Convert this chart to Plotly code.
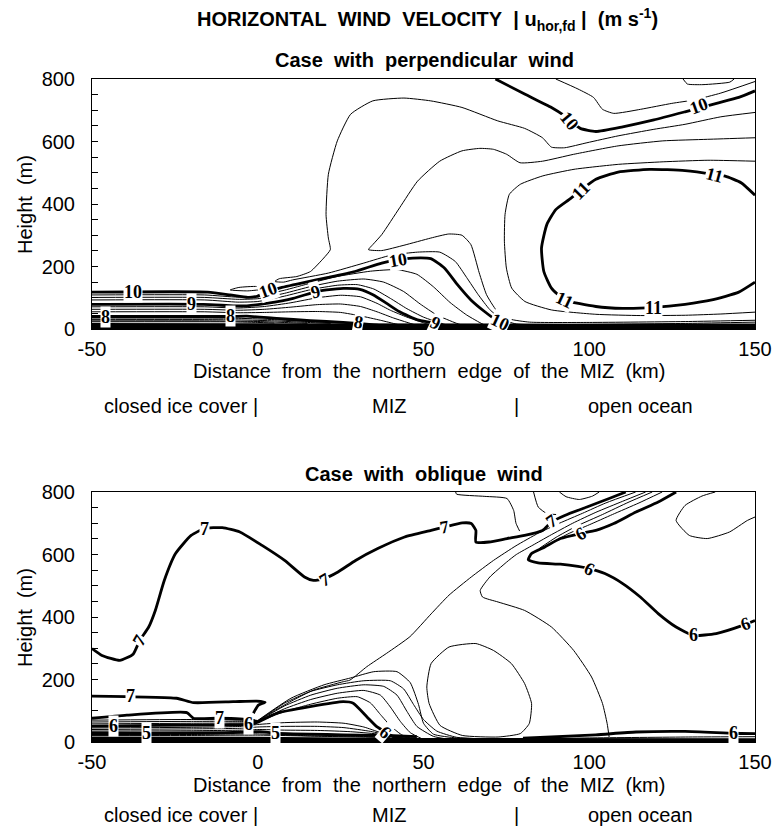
import plotly.graph_objects as go

# ---------------- data (km, m) ----------------
x_range = [-50, 150]
y_range = [0, 800]
x_ticks = [-50, 0, 50, 100, 150]
x_tick_text = ["-50", "0", "50", "100", "150"]
y_ticks = [0, 200, 400, 600, 800]

# ===== TOP PANEL : perpendicular wind =====
top_band = [(-50, 19), (0, 18), (50, 17), (100, 17), (150, 18)]

top_b10_low = [(-50, 118), (-15.1, 118), (-8.3, 109), (-3, 101), (-0.3, 104), (2.7, 118), (6.5, 131),
               (13.2, 147), (21.3, 165), (29.3, 184), (37.4, 211), (42.4, 222), (46.8, 227), (52.2, 225),
               (56.3, 195), (60.3, 141), (64.3, 93), (68.4, 56), (73.1, 20), (76.4, 4)]
top_b9 = [(-50, 79), (-16.4, 79), (-7.4, 74), (-3.3, 74), (2.7, 82), (10.7, 98), (17.3, 119), (20.8, 125),
          (25.8, 130), (30.8, 127), (34.9, 109), (38.9, 82), (42.8, 55), (48.2, 29), (53.6, 18), (57.6, 2)]
top_b8 = [(-50, 40), (-8, 40), (-3.3, 41), (5.7, 34), (15.8, 27), (25.8, 21), (30, 18), (36, 12), (40, 5)]
top_t975 = [(-50, 109), (-16, 109), (-6, 102), (0, 106), (8, 124), (16, 147), (24, 168), (34, 185), (42, 190),
            (48, 175), (53, 135), (58, 85), (63, 45), (68, 15), (72, 2)]
top_t95 = [(-50, 101), (-16, 101), (-6, 95), (0, 97), (8, 114), (16, 136), (24, 153), (32, 160), (38, 150),
           (44, 120), (49, 80), (54, 45), (60, 18), (65, 2)]
top_t925 = [(-50, 93), (-16, 93), (-6, 86), (0, 88), (8, 105), (16, 126), (24, 140), (30, 142), (35, 128),
            (40, 98), (45, 65), (50, 38), (56, 16), (61, 2)]
top_t875 = [(-50, 71), (-16, 71), (-6, 67), (2, 72), (10, 84), (18, 100), (25, 108), (31, 103), (36, 82),
            (40, 60), (45, 38), (50, 20), (54, 5)]
top_t85 = [(-50, 63), (-16, 63), (-6, 60), (2, 63), (10, 70), (18, 78), (25, 80), (31, 72), (36, 55), (41, 35),
           (46, 18), (50, 5)]
top_t825 = [(-50, 55), (-16, 55), (-6, 52), (2, 53), (10, 55), (18, 56), (25, 53), (31, 42), (37, 28), (42, 15),
            (46, 5)]
top_t775 = [(-50, 35), (-16, 35), (-5, 34), (5, 30), (15, 24), (25, 20), (32, 17)]
top_t75 = [(-50, 30), (-16, 30), (-5, 29), (5, 26), (15, 21), (22, 18)]
top_t725 = [(-50, 26), (-16, 26), (0, 24), (10, 20), (15, 18)]
top_t7 = [(-50, 23), (-10, 23), (0, 21), (5, 19)]
top_lens = [(-8.3, 125), (-5.7, 133), (-0.3, 136), (1.7, 128), (-3, 122), (-8.3, 125)]
top_arcA = [(150, 693), (139.7, 679), (128.9, 655), (119.5, 639), (108.7, 618), (99.3, 596), (92.6, 580),
            (88.6, 582), (85.9, 612), (80.5, 642), (72.4, 666), (61.6, 709), (52.2, 730), (44.1, 739),
            (34.7, 730), (28, 687), (24, 602), (21.3, 495), (20.6, 366), (21.3, 291), (21.9, 254), (19.9, 227),
            (15.9, 184), (11.8, 168), (6.5, 161), (5.1, 152), (7.8, 150), (10.5, 157), (21.3, 179), (32, 211),
            (40.1, 236), (48.2, 246), (54.9, 246), (59.6, 216), (63, 165), (66.5, 110), (70, 62), (73.5, 32),
            (78, 16), (100, 15), (130, 18), (150, 22)]
top_arcB = [(150, 612), (135.7, 607), (122.2, 602), (108.7, 586), (95.3, 559), (85.9, 537), (79.1, 532),
            (75.1, 559), (71.1, 575), (67, 578), (61.6, 570), (54.9, 537), (48.2, 473), (42.8, 388),
            (37.4, 302), (34.7, 270), (33.4, 254), (37.4, 251), (44.1, 268), (52.2, 291), (57.6, 304),
            (61.6, 300), (64.3, 270), (66.8, 180), (69, 110), (72, 60), (76, 32), (82, 22), (100, 21),
            (130, 24), (150, 28)]
top_c1075 = [(150, 537), (135.8, 540), (122.3, 535), (108.9, 527), (95.4, 511), (86, 490), (79.2, 463),
             (75.9, 431), (74.6, 367), (74.4, 281), (75, 195), (76.6, 131), (80.6, 88), (88.6, 61), (102, 47),
             (115.5, 43), (129, 44), (139.7, 48), (150, 54)]
top_b11 = [(150, 428), (145.8, 468), (141, 489), (137.7, 495), (128.9, 507), (118.2, 511), (108.7, 502),
           (102, 479), (97.3, 443), (93.9, 414), (89.9, 382), (87.2, 334), (85.6, 259), (86.3, 184),
           (88.6, 131), (92.6, 93), (102, 72), (110.1, 66), (119.5, 69), (128.9, 79), (137, 93), (145.1, 118),
           (150, 150)]
top_b10_up = [(71.7, 800), (80.5, 752), (88.6, 709), (92.6, 682), (97.3, 642), (102, 632), (110.1, 647),
              (119.5, 669), (128.9, 695), (138.4, 722), (145.1, 741), (150, 762)]
top_t1 = [(89.9, 800), (96.6, 768), (101.3, 741), (104, 703), (107.4, 690), (115.5, 703), (124.9, 722),
          (131.6, 733), (139.7, 755), (150, 792)]
top_t_small = [(128.3, 800), (129.6, 784), (134.3, 782), (142.4, 790), (143.7, 800)]

top_bold = [top_b10_low, top_b9, top_b8, top_b11, top_b10_up]
top_thin = [top_t975, top_t95, top_t925, top_t875, top_t85, top_t825, top_t775, top_t75, top_t725, top_t7,
            top_lens, top_arcA, top_arcB, top_c1075, top_t1, top_t_small]

top_labels = [("10", -37.5, 118, 0), ("9", -19.9, 79, 0), ("8", -46, 40, 0), ("8", -8.2, 41, 0),
              ("10", 3.2, 125, -20), ("9", 17.3, 119, -15), ("8", 30.3, 22, 10), ("10", 42.4, 222, -10),
              ("9", 53.6, 20, 25), ("10", 73.1, 22, 25), ("10", 94, 665, 50), ("10", 133, 712, -20),
              ("11", 97.3, 443, -45), ("11", 137.7, 492, 15), ("11", 92.6, 93, 25), ("11", 119.5, 68, 0)]

# ===== BOTTOM PANEL : oblique wind =====
bot_band = [(-50, 18), (0, 17), (40, 13), (100, 12), (150, 12)]

bot_b7_main = [(-50, 299), (-47, 277), (-41.6, 261), (-37.6, 281), (-35.6, 325), (-32.9, 368), (-30.9, 421),
               (-28.2, 517), (-24.8, 603), (-20.1, 661), (-16.1, 683), (-10.7, 686), (-5.4, 672), (1.3, 629),
               (8.1, 581), (14.1, 528), (16.8, 517), (20.1, 523), (24.2, 544), (29.5, 581), (36.2, 619),
               (44.3, 656), (52.3, 677), (56.4, 688), (61.7, 701), (64.4, 699), (65.8, 677), (65.8, 640),
               (69.8, 640), (75.2, 651), (80.5, 661), (85.9, 677), (88.6, 704), (92.6, 725), (99.3, 752),
               (106, 779), (111, 800)]
bot_b7_upper_left = [(-50, 147), (-24.5, 140), (-19.4, 126), (-7.4, 129), (-0.3, 131), (2.2, 127), (0.2, 118),
                     (-0.8, 102), (-1.3, 92)]
bot_b7_lower_left = [(-50, 76), (-39.5, 86), (-21.4, 94), (-19.4, 76), (-12.4, 76), (-5.4, 74), (-1.8, 70),
                     (0, 66)]
bot_b6_low = [(-50, 51), (-30, 53), (-10, 55), (-2, 57), (0, 63), (5.7, 92), (15.8, 113), (25.8, 129),
              (28.8, 124), (32.9, 81), (35.9, 49), (38.4, 33), (40.9, 17), (45.9, 4)]
bot_b5 = [(-50, 29), (-33.5, 28), (-10, 30), (0.7, 33), (5.5, 28), (10.7, 26), (20.8, 24), (30.8, 22),
          (40.9, 20), (48, 17)]
bot_t675 = [(-50, 70), (-20, 72), (-5, 70), (0, 65)]
bot_t65 = [(-50, 64), (-20, 66), (-5, 66), (0, 64)]
bot_t625 = [(-50, 58), (-20, 60), (-5, 61), (0, 63)]
bot_t575 = [(-50, 45), (-20, 47), (-5, 50), (0, 56), (8, 62), (18, 64), (26, 60), (32, 48), (37, 30), (42, 12)]
bot_t55 = [(-50, 40), (-20, 42), (-5, 44), (0, 48), (8, 50), (18, 50), (26, 46), (34, 34), (40, 20), (45, 10)]
bot_t525 = [(-50, 35), (-20, 36), (-5, 38), (0, 40), (8, 38), (18, 37), (28, 33), (36, 26), (44, 16), (50, 10)]
bot_t475 = [(-50, 24), (-20, 24), (0, 26), (15, 20), (30, 18), (45, 15)]
bot_t45 = [(-50, 21), (-20, 21), (0, 22), (20, 18), (40, 14)]
bot_f1 = [(0, 64), (8, 97), (16, 121), (24, 140), (30, 145), (34, 125), (37, 88), (40, 52), (43, 26), (46, 8)]
bot_f2 = [(0, 65), (8, 106), (16, 136), (24, 156), (32, 165), (37, 150), (40, 112), (43, 66), (46, 30), (50, 8)]
bot_f3 = [(0, 66), (8, 115), (16, 150), (24, 172), (32, 183), (38, 178), (42, 150), (45, 98), (48, 50),
          (53, 18), (58, 8)]
bot_f4 = [(0, 67), (8, 124), (16, 162), (24, 183), (32, 196), (40, 196), (44, 170), (47, 120), (50, 72),
          (54, 35), (60, 15), (70, 9)]
bot_f5 = [(0, 69), (10, 140), (20, 183), (28, 205), (35, 225), (42, 225), (46, 190), (48.5, 120), (50, 60),
          (53, 25), (60, 13), (75, 10), (95, 9)]
bot_d1 = [(0, 68), (5, 100), (10.7, 134), (16.8, 166), (25.8, 193), (27.8, 198), (32.9, 241), (38.9, 284),
          (45.9, 337), (52.3, 410), (57.7, 470), (64.4, 528), (71.1, 581), (77.9, 628), (84.6, 668),
          (91, 700), (98, 732), (105, 765), (114, 800)]
bot_d2 = [(117, 800), (110, 770), (102, 735), (95, 700), (88, 660), (83, 630), (78, 600), (75, 575),
          (70, 528), (67.1, 485), (67.8, 464), (72.5, 448), (80.5, 421), (88.6, 368), (95.3, 293),
          (100.7, 208), (104, 123), (105.4, 59), (106, 16)]
bot_bundle1 = [(119, 800), (112, 768), (104, 728), (96, 690), (90, 655), (85, 620)]
bot_bundle2 = [(122, 800), (115, 765), (107, 728), (100, 695), (94, 668), (89, 640)]
bot_top1 = [(59.7, 800), (60, 793), (68.5, 786), (75.2, 779), (77.2, 741), (77.9, 700), (79, 675)]
bot_top2 = [(83.2, 800), (84.6, 752), (87.2, 731), (90, 728)]
bot_top_loop = [(91, 800), (93, 785), (97, 776), (101, 787), (103, 800)]
bot_tr = [(150, 720), (147.7, 709), (142.3, 672), (135.6, 651), (130.2, 661), (126.2, 709), (128.9, 757),
          (134, 787), (138, 800)]
bot_b6_upper = [(126.2, 800), (120.8, 768), (114.1, 736), (107.4, 699), (102, 677), (97.3, 667), (91.3, 651),
                (86.6, 624), (82.6, 603), (81.6, 583), (84.6, 573), (91.3, 569), (96.6, 562), (100, 555),
                (104.7, 539), (110.1, 507), (115.4, 464), (120.8, 411), (126.2, 368), (131.5, 341),
                (138.3, 347), (146.3, 373), (150, 389)]
bot_loop = [(51, 176), (52.3, 251), (57.7, 304), (65.8, 315), (71.1, 293), (76.5, 251), (80.5, 187),
            (82.6, 123), (81.9, 59), (79.2, 27), (72.5, 16), (61.7, 21), (55, 53), (51.7, 123), (51, 176)]
bot_b6_br = [(80, 12), (88.6, 16), (102, 23), (114.1, 32), (128.9, 34), (143.6, 28), (150, 27)]
bot_t_br = [(70, 8), (100, 13), (130, 16), (150, 17)]

bot_bold = [bot_b7_main, bot_b7_upper_left, bot_b7_lower_left, bot_b6_low, bot_b5, bot_b6_upper, bot_b6_br]
bot_thin = [bot_t675, bot_t65, bot_t625, bot_t575, bot_t55, bot_t525, bot_t475, bot_t45, bot_f1, bot_f2,
            bot_f3, bot_f4, bot_f5, bot_d1, bot_d2, bot_bundle1, bot_bundle2, bot_top1, bot_top2, bot_top_loop,
            bot_tr, bot_loop, bot_t_br]

bot_labels = [("7", -16.1, 683, 0), ("7", -35.6, 325, -60), ("7", 20.1, 520, -30), ("7", 56.4, 688, -10),
              ("7", 88.6, 707, -35), ("7", -38.3, 146, 0), ("7", -11.6, 77, 0), ("6", -43.6, 51, 0),
              ("6", -2.8, 58, 0), ("5", -33.5, 28, 0), ("5", 5.5, 28, 0), ("6", 38.4, 33, 40),
              ("6", 97.3, 667, -30), ("6", 100, 555, 25), ("6", 131.5, 341, 0), ("6", 147, 377, -20),
              ("6", 143.6, 28, 0)]

# ---------------- figure ----------------
W, H = 774, 827
def px(x):
    return x / W
def py(y):
    return 1 - y / H

fig = go.Figure()

def add_band(band, xa, ya):
    xs = [p[0] for p in band] + [150, -50]
    ys = [p[1] for p in band] + [0, 0]
    fig.add_trace(go.Scatter(x=xs, y=ys, fill="toself", fillcolor="black", mode="lines",
                             line=dict(color="black", width=0), xaxis=xa, yaxis=ya,
                             hoverinfo="skip", showlegend=False))

def add_lines(lines, width, xa, ya):
    for pts in lines:
        fig.add_trace(go.Scatter(x=[p[0] for p in pts], y=[p[1] for p in pts], mode="lines",
                                 line=dict(color="black", width=width, shape="spline", smoothing=0.5),
                                 xaxis=xa, yaxis=ya, hoverinfo="skip", showlegend=False))

add_band(top_band, "x", "y")
add_lines(top_thin, 1, "x", "y")
add_lines(top_bold, 2.8, "x", "y")
add_band(bot_band, "x2", "y2")
add_lines(bot_thin, 1, "x2", "y2")
add_lines(bot_bold, 2.8, "x2", "y2")

annotations = []
lab_font = dict(family="Liberation Serif, Times New Roman, serif", size=18, color="black")
for lab, x, y, ang in top_labels:
    annotations.append(dict(text="<b>%s</b>" % lab, x=x, y=y, xref="x", yref="y", showarrow=False,
                            textangle=ang, bgcolor="white", borderpad=0, font=lab_font))
for lab, x, y, ang in bot_labels:
    annotations.append(dict(text="<b>%s</b>" % lab, x=x, y=y, xref="x2", yref="y2", showarrow=False,
                            textangle=ang, bgcolor="white", borderpad=0, font=lab_font))

sans = "Liberation Sans, Arial, sans-serif"
sp = "\u00a0"
def txt(s, x, y, size=19, bold=False, xanchor="center"):
    annotations.append(dict(text=("<b>%s</b>" % s) if bold else s, x=px(x), y=py(y), xref="paper",
                            yref="paper", showarrow=False, xanchor=xanchor, yanchor="middle",
                            font=dict(family=sans, size=size, color="black")))

d = sp + " "
txt("HORIZONTAL" + d + "WIND" + d + "VELOCITY" + d + "|" + sp + "u<sub>hor,fd</sub>" + sp + "|" + d +
    "(m s<sup>-1</sup>)", 428, 20, size=20, bold=True)
txt("Case" + d + "with" + d + "perpendicular" + d + "wind", 424, 60, size=20, bold=True)
txt("Case" + d + "with" + d + "oblique" + d + "wind", 424, 474, size=20, bold=True)
xt = d.join(["Distance", "from", "the", "northern", "edge", "of", "the", "MIZ", "(km)"])
for ax_y, lab_y in ((371, 406), (785, 815)):
    txt(xt, 429, ax_y, size=20)
    txt("closed ice cover |", 181, lab_y, size=20)
    txt("MIZ", 389, lab_y, size=20)
    txt("|", 516, lab_y, size=20)
    txt("open ocean", 640, lab_y, size=20)

for yc in (204, 617):
    annotations.append(dict(text="Height" + d + "(m)", x=px(25), y=py(yc), xref="paper", yref="paper",
                            showarrow=False, textangle=-90, xanchor="center", yanchor="middle",
                            font=dict(family=sans, size=20, color="black")))

xdom = [px(92), px(755)]
axis_common = dict(showline=True, linecolor="black", linewidth=1, mirror=True, showgrid=False, zeroline=False,
                   automargin=False)
xaxis_style = dict(range=x_range, tickvals=x_ticks, ticktext=x_tick_text, ticks="",
                   tickfont=dict(family=sans, size=20, color="black"), ticklabelstandoff=2, **axis_common)
yaxis_style = dict(range=y_range, tickvals=y_ticks, ticks="inside", ticklen=6, tickcolor="black",
                   minor=dict(ticks="inside", dtick=50, ticklen=6, tickcolor="black"),
                   tickfont=dict(family=sans, size=20, color="black"), ticklabelstandoff=12, **axis_common)

fig.update_layout(
    width=W, height=H, margin=dict(l=0, r=0, t=0, b=0, autoexpand=False), paper_bgcolor="white",
    plot_bgcolor="white",
    xaxis=dict(domain=xdom, anchor="y", **xaxis_style),
    yaxis=dict(domain=[py(329), py(79)], anchor="x", **yaxis_style),
    xaxis2=dict(domain=xdom, anchor="y2", **xaxis_style),
    yaxis2=dict(domain=[py(742), py(492)], anchor="x2", **yaxis_style),
    annotations=annotations,
)

fig.write_html("out.html")
